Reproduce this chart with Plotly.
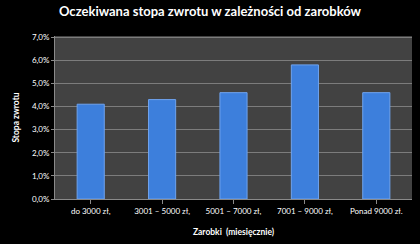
import plotly.graph_objects as go

categories = ["do 3000 zł,", "3001 – 5000 zł,", "5001 – 7000 zł,", "7001 – 9000 zł,", "Ponad 9000 zł."]
values = [0.041, 0.043, 0.046, 0.058, 0.046]
tick_vals = [0.0, 0.01, 0.02, 0.03, 0.04, 0.05, 0.06, 0.07]
tick_text = ["0,0%", "1,0%", "2,0%", "3,0%", "4,0%", "5,0%", "6,0%", "7,0%"]

font_family = "Lato, Open Sans, sans-serif"

fig = go.Figure(go.Bar(
    x=categories, y=values,
    marker=dict(color="#3d7fdc", line=dict(color="#6fa3ee", width=1)),
    width=0.38,
))

fig.update_layout(
    width=420, height=244,
    margin=dict(l=55, r=8, t=36, b=43),
    paper_bgcolor="#000000",
    plot_bgcolor="#424242",
    showlegend=False,
    title=dict(text="<b>Oczekiwana stopa zwrotu w zależności od zarobków</b>",
               x=0.5, xanchor="center", y=0.955, yanchor="middle",
               font=dict(family=font_family, size=13, color="#ffffff")),
    font=dict(family=font_family, color="#ffffff"),
    xaxis=dict(
        showgrid=False, showline=True, linecolor="#8a8a8a", linewidth=1,
        ticks="outside", ticklen=4, tickcolor="#8a8a8a",
        tickfont=dict(size=8, color="#ffffff"),
        title=dict(text="<b>Zarobki  (miesięcznie)</b>", font=dict(size=8.5, color="#ffffff"), standoff=14),
        fixedrange=True,
    ),
    yaxis=dict(
        range=[0, 0.0705], tickvals=tick_vals, ticktext=tick_text,
        showgrid=True, gridcolor="#7c7c7c", gridwidth=1,
        showline=True, linecolor="#8a8a8a", linewidth=1,
        ticks="outside", ticklen=3, tickcolor="#8a8a8a",
        tickfont=dict(size=8, color="#ffffff"),
        title=dict(text="<b>Stopa zwrotu</b>", font=dict(size=8.5, color="#ffffff"), standoff=10),
        zeroline=False, fixedrange=True,
    ),
)

fig.write_html("out.html")
